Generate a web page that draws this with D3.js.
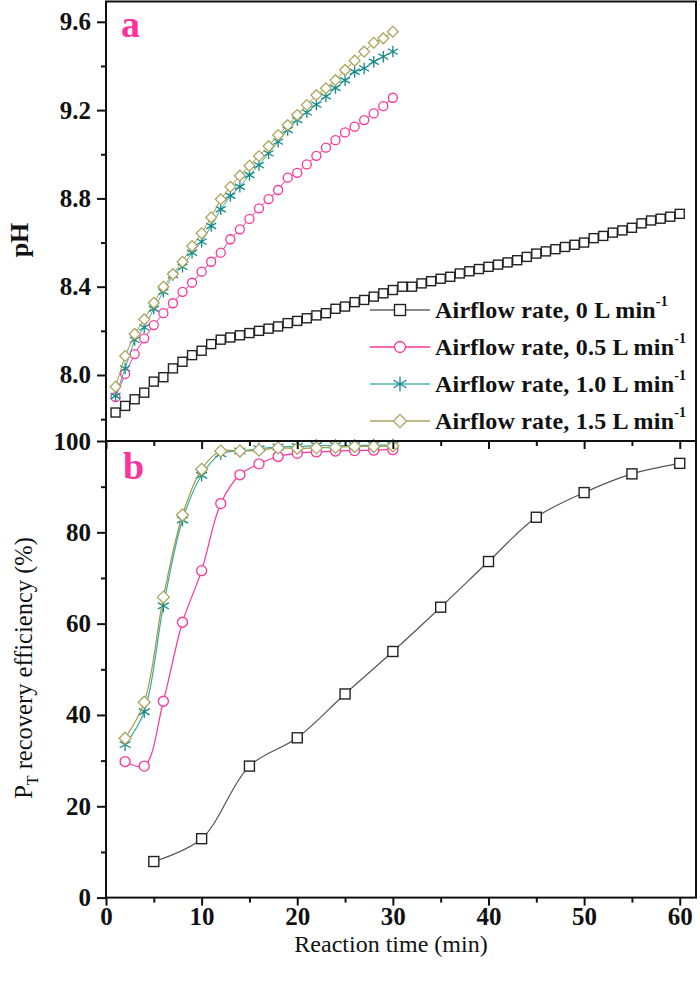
<!DOCTYPE html>
<html><head><meta charset="utf-8">
<script src="https://cdn.jsdelivr.net/npm/d3@7"></script>
<style>body{margin:0;background:#fff}svg{display:block}</style>
</head><body>
<script>
// ---------- data ----------
const phTime0 = [1,2,3,4,5,6,7,8,9,10,11,12,13,14,15,16,17,18,19,20,21,22,23,24,25,26,27,28,29,30,
  31,32,33,34,35,36,37,38,39,40,41,42,43,44,45,46,47,48,49,50,51,52,53,54,55,56,57,58,59,60];
const phTime = [1,2,3,4,5,6,7,8,9,10,11,12,13,14,15,16,17,18,19,20,21,22,23,24,25,26,27,28,29,30];
const ph0 = [7.83,7.86,7.89,7.92,7.97,7.99,8.03,8.06,8.09,8.11,
  8.14,8.16,8.17,8.18,8.19,8.20,8.21,8.22,8.235,8.245,
  8.257,8.27,8.28,8.30,8.31,8.33,8.34,8.355,8.37,8.385,
  8.40,8.40,8.415,8.425,8.436,8.445,8.46,8.47,8.48,8.49,
  8.50,8.51,8.52,8.535,8.55,8.56,8.57,8.58,8.59,8.60,
  8.62,8.63,8.645,8.655,8.667,8.687,8.70,8.708,8.717,8.73];
const ph05 = [7.90,8.005,8.095,8.166,8.226,8.28,8.325,8.377,8.418,8.468,8.513,8.554,8.615,8.66,8.707,
  8.755,8.797,8.838,8.894,8.916,8.954,8.993,9.03,9.064,9.099,9.125,9.155,9.185,9.218,9.256];
const ph10 = [7.905,8.03,8.159,8.216,8.30,8.377,8.453,8.49,8.554,8.604,8.675,8.751,8.812,8.853,8.906,
  8.951,9.004,9.057,9.11,9.155,9.19,9.225,9.262,9.30,9.335,9.374,9.389,9.419,9.442,9.465];
const ph15 = [7.947,8.086,8.186,8.252,8.327,8.40,8.457,8.513,8.584,8.642,8.714,8.796,8.853,8.903,8.948,
  8.992,9.037,9.087,9.132,9.178,9.223,9.268,9.299,9.336,9.382,9.424,9.465,9.505,9.525,9.555];

const effTime0 = [5,10,15,20,25,30,35,40,45,50,55,60];
const effTime = [2,4,6,8,10,12,14,16,18,20,22,24,26,28,30];
const eff0 = [7.9,12.9,28.8,35.0,44.6,53.9,63.6,73.6,83.3,88.7,92.8,95.1];
const eff05 = [29.8,28.8,43.0,60.3,71.6,86.3,92.6,95.0,96.6,97.3,97.6,97.8,97.9,98.0,98.1];
const eff10 = [33.5,40.7,63.9,82.7,92.5,97.2,97.8,98.3,98.7,98.8,99.0,99.0,99.0,99.1,99.1];
const eff15 = [34.9,42.8,65.8,83.8,93.8,97.8,97.8,98.0,98.5,98.4,98.5,98.6,98.8,98.8,98.9];

const seriesNames = ["Airflow rate, 0 L min", "Airflow rate, 0.5 L min", "Airflow rate, 1.0 L min", "Airflow rate, 1.5 L min"];
const xTicks = [0,10,20,30,40,50,60];
const phTicks = [8.0,8.4,8.8,9.2,9.6];
const effTicks = [0,20,40,60,80,100];

// ---------- styles ----------
const styles = [
  {sym:"square",  mark:"#222", line:"#555", legLine:"#666"},
  {sym:"circle",  mark:"#ff3399", line:"#ff3399", legLine:"#ff3399"},
  {sym:"star",    mark:"#138a8a", line:"#3aa8a8", legLine:"#4db5b5"},
  {sym:"diamond", mark:"#aca55c", line:"#a09a40", legLine:"#aca55c"}
];
const FONT = "'Liberation Serif','Times New Roman',serif";

const W = 700, H = 984;
const svg = d3.select("body").append("svg").attr("width", W).attr("height", H)
  .style("font-family", FONT);

const L = 106, R = 696, T1 = 1.5, B1 = 441, B2 = 897.6;
const x = d3.scaleLinear().domain([0, 61.7]).range([L, R]);
const yPh = d3.scaleLinear().domain([7.701, 9.692]).range([B1, T1]);
const yEff = d3.scaleLinear().domain([0, 100]).range([B2, B1]);

function drawMarker(g, sym, color, size) {
  const s = size / 2;
  if (sym === "square") {
    g.append("rect").attr("x", -s).attr("y", -s).attr("width", size).attr("height", size)
      .attr("fill", "#fff").attr("stroke", color).attr("stroke-width", 1.4);
  } else if (sym === "circle") {
    g.append("circle").attr("r", s).attr("fill", "#fff").attr("stroke", color).attr("stroke-width", 1.3);
  } else if (sym === "diamond") {
    const d = s * 1.2;
    g.append("path").attr("d", `M0,${-d}L${d},0L0,${d}L${-d},0Z`)
      .attr("fill", "#fff").attr("stroke", color).attr("stroke-width", 1.3);
  } else if (sym === "star") {
    const r = s * 1.15;
    const p = [];
    [90, 30, -30].forEach(a => {
      const rad = a * Math.PI / 180;
      p.push(`M${-r*Math.cos(rad)},${r*Math.sin(rad)}L${r*Math.cos(rad)},${-r*Math.sin(rad)}`);
    });
    g.append("path").attr("d", p.join("")).attr("fill", "none").attr("stroke", color).attr("stroke-width", 1.3);
  }
}

function drawSeries(times, vals, yS, st, size, curve, lw) {
  const pts = times.map((t, i) => [x(t), yS(vals[i])]);
  svg.append("path").datum(pts)
    .attr("d", d3.line().curve(curve))
    .attr("fill", "none").attr("stroke", st.line).attr("stroke-width", lw);
  const g = svg.append("g");
  pts.forEach(p => {
    const m = g.append("g").attr("transform", `translate(${p[0]},${p[1]})`);
    drawMarker(m, st.sym, st.mark, size);
  });
}

// ---------- top panel series ----------
drawSeries(phTime0, ph0, yPh, styles[0], 9, d3.curveLinear, 1);
drawSeries(phTime, ph05, yPh, styles[1], 9, d3.curveLinear, 1);
drawSeries(phTime, ph10, yPh, styles[2], 10, d3.curveLinear, 1);
drawSeries(phTime, ph15, yPh, styles[3], 9, d3.curveLinear, 1);

// ---------- bottom panel series ----------
const spline = d3.curveCatmullRom.alpha(0.5);
drawSeries(effTime0, eff0, yEff, styles[0], 10, spline, 1.2);
drawSeries(effTime, eff05, yEff, styles[1], 10, spline, 1.2);
drawSeries(effTime, eff10, yEff, styles[2], 11, spline, 1.2);
drawSeries(effTime, eff15, yEff, styles[3], 10, spline, 1.2);

// ---------- frames ----------
svg.append("rect").attr("x", L).attr("y", T1).attr("width", R - L).attr("height", B1 - T1)
  .attr("fill", "none").attr("stroke", "#111").attr("stroke-width", 2);
svg.append("rect").attr("x", L).attr("y", B1).attr("width", R - L).attr("height", B2 - B1)
  .attr("fill", "none").attr("stroke", "#111").attr("stroke-width", 2);

// ---------- axes ----------
function styleAxis(g, fs) {
  g.select(".domain").remove();
  g.selectAll(".tick line").attr("stroke", "#111").attr("stroke-width", 2);
  g.selectAll(".tick text").attr("fill", "#111").attr("font-family", FONT)
    .attr("font-weight", "bold").attr("font-size", fs);
}
// pH axis
const gPh = svg.append("g").attr("transform", `translate(${L},0)`)
  .call(d3.axisLeft(yPh).tickValues(phTicks).tickFormat(d3.format(".1f")).tickSize(9).tickPadding(6));
styleAxis(gPh, 25);
svg.append("g").attr("transform", `translate(${L},0)`)
  .call(d3.axisLeft(yPh).tickValues([7.8,8.2,8.6,9.0,9.4]).tickFormat("").tickSize(5))
  .call(g => styleAxis(g, 25));
// efficiency axis
const gEff = svg.append("g").attr("transform", `translate(${L},0)`)
  .call(d3.axisLeft(yEff).tickValues(effTicks).tickFormat(d3.format("d")).tickSize(9).tickPadding(6));
styleAxis(gEff, 25);
svg.append("g").attr("transform", `translate(${L},0)`)
  .call(d3.axisLeft(yEff).tickValues([10,30,50,70,90]).tickFormat("").tickSize(5))
  .call(g => styleAxis(g, 25));
// bottom x axis
const gX = svg.append("g").attr("transform", `translate(0,${B2})`)
  .call(d3.axisBottom(x).tickValues(xTicks).tickFormat(d3.format("d")).tickSize(8).tickPadding(2));
styleAxis(gX, 25);
svg.append("g").attr("transform", `translate(0,${B2})`)
  .call(d3.axisBottom(x).tickValues([5,15,25,35,45,55]).tickFormat("").tickSize(5))
  .call(g => styleAxis(g, 25));
// top of bottom panel ticks (pointing down)
svg.append("g").attr("transform", `translate(0,${B1})`)
  .call(d3.axisBottom(x).tickValues(xTicks).tickFormat("").tickSize(8))
  .call(g => styleAxis(g, 25));
svg.append("g").attr("transform", `translate(0,${B1})`)
  .call(d3.axisBottom(x).tickValues([5,15,25,35,45,55]).tickFormat("").tickSize(5))
  .call(g => styleAxis(g, 25));

// ---------- titles ----------
svg.append("text").attr("transform", "translate(28,240) rotate(-90)")
  .attr("text-anchor", "middle").attr("font-size", 26).attr("font-weight", "bold").attr("fill", "#111")
  .text("pH");
const yt = svg.append("text").attr("transform", "translate(32,668) rotate(-90)")
  .attr("text-anchor", "middle").attr("font-size", 24.5).attr("fill", "#111");
yt.append("tspan").text("P");
yt.append("tspan").attr("font-size", 16).attr("dy", 6).text("T");
yt.append("tspan").attr("dy", -6).text(" recovery efficiency (%)");
svg.append("text").attr("x", 391).attr("y", 952).attr("text-anchor", "middle")
  .attr("font-size", 24).attr("fill", "#111").text("Reaction time (min)");

// panel letters
svg.append("text").attr("x", 121).attr("y", 37).attr("font-size", 38).attr("font-weight", "bold")
  .attr("fill", "#ff3399").text("a");
svg.append("text").attr("x", 123).attr("y", 479).attr("font-size", 38).attr("font-weight", "bold")
  .attr("fill", "#ff3399").text("b");

// ---------- legend ----------
const legY = [310, 347, 384, 421];
seriesNames.forEach((name, i) => {
  const st = styles[i];
  const y0 = legY[i];
  svg.append("line").attr("x1", 370).attr("x2", 430).attr("y1", y0).attr("y2", y0)
    .attr("stroke", st.legLine).attr("stroke-width", 1.4);
  const m = svg.append("g").attr("transform", `translate(400,${y0})`);
  drawMarker(m, st.sym, st.mark, i === 2 ? 13 : 11);
  const t = svg.append("text").attr("x", 435).attr("y", y0 + 8).attr("font-size", 24)
    .attr("font-weight", "bold").attr("fill", "#111").attr("letter-spacing", 0.2);
  t.append("tspan").text(name);
  t.append("tspan").attr("font-size", 14).attr("dy", -12).text("-1");
});
</script>
</body></html>
